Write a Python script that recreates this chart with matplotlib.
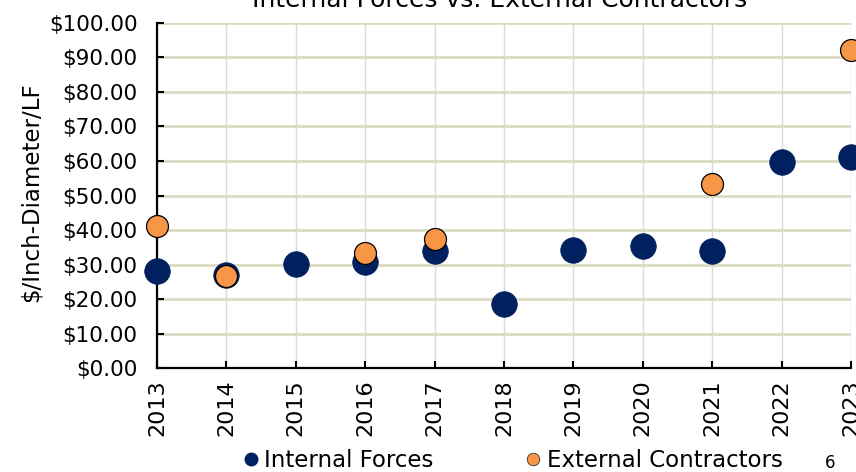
import numpy as np
import matplotlib
matplotlib.use('Agg')
import matplotlib.pyplot as plt
from matplotlib.lines import Line2D

# values ($/Inch-Diameter/LF)
years = ['2013', '2014', '2015', '2016', '2017', '2018', '2019', '2020', '2021', '2022', '2023']
internal = [28.2, 27.0, 30.1, 30.6, 33.8, 18.5, 34.2, 35.3, 33.9, 59.7, 61.1]
ext_years = ['2013', '2014', '2016', '2017', '2021', '2023']
external = [41.3, 26.8, 33.2, 37.4, 53.4, 92.2]

navy = '#002060'
orange = '#F79646'

plt.rcParams['font.family'] = ['DejaVu Sans']

fig = plt.figure(figsize=(8.56, 4.72), dpi=100)
ax = fig.add_axes([0.1834, 0.2203, 0.8108, 0.7310])

xi = np.arange(len(years))
xe = [years.index(y) for y in ext_years]

ax.scatter(xi, internal, s=340, color=navy, edgecolors=navy, linewidths=0.5, zorder=3, clip_on=False)
ax.scatter(xe, external, s=250, color=orange, edgecolors='black', linewidths=0.9, zorder=4, clip_on=False)

ax.set_xlim(0, len(years) - 1)
ax.set_ylim(0, 100)
ax.set_xticks(xi)
ax.set_xticklabels(years, rotation=90, fontsize=16)
yt = np.arange(0, 101, 10)
ax.set_yticks(yt)
ax.set_yticklabels(['${:.2f}'.format(v) for v in yt], fontsize=15.5)
ax.tick_params(direction='in', length=5, width=1.5)
ax.tick_params(axis='y', pad=14)
ax.tick_params(axis='x', pad=8)

# gridlines
ax.yaxis.grid(True, color='#DDD9C3', linewidth=2.0, zorder=0)
ax.xaxis.grid(True, color='#D9D9D9', linewidth=1.0, zorder=0)
ax.set_axisbelow(True)
for s in ['top', 'right']:
    ax.spines[s].set_visible(False)
for s in ['left', 'bottom']:
    ax.spines[s].set_linewidth(1.6)
    ax.spines[s].set_color('black')

ax.set_ylabel('$/Inch-Diameter/LF', fontsize=16.5, labelpad=8)
ax.yaxis.set_label_coords(-0.165, 0.51)

# title, cut off at top like the reference
fig.text(0.584, 1.0, 'Internal Forces vs. External Contractors', fontsize=18, ha='center', va='center')

handles = [Line2D([], [], marker='o', linestyle='none', markersize=9, color=navy, markeredgecolor=navy),
           Line2D([], [], marker='o', linestyle='none', markersize=9, color=orange, markeredgecolor='#333333', markeredgewidth=0.6)]
fig.legend(handles, ['Internal Forces', 'External Contractors'], loc='center', bbox_to_anchor=(0.597, 0.024),
           ncol=2, frameon=False, fontsize=16.5, handletextpad=0.1, columnspacing=3.85, handlelength=1.0)

fig.text(0.97, 0.02, '6', fontsize=12, ha='center', va='center')

fig.savefig('out.png', dpi=100)
